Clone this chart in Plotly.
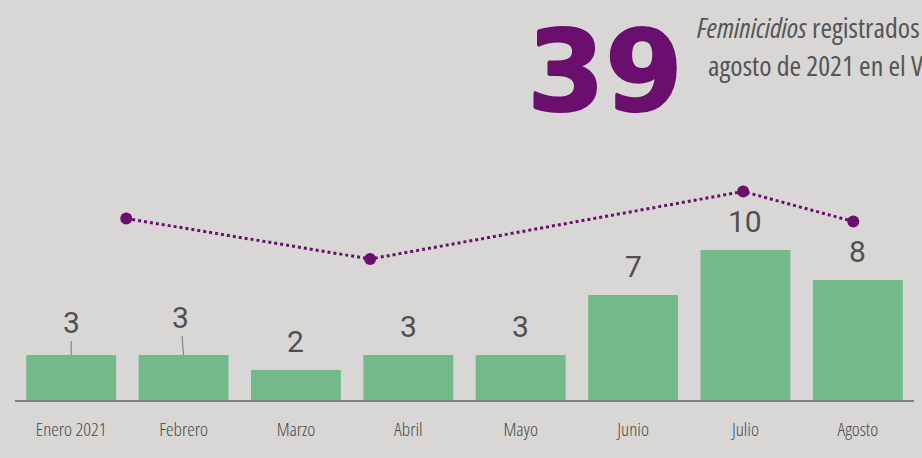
import plotly.graph_objects as go

meses = ["Enero 2021", "Febrero", "Marzo", "Abril", "Mayo", "Junio", "Julio", "Agosto"]
feminicidios = [3, 3, 2, 3, 3, 7, 10, 8]

# decorative dotted trend line (position along month axis, value)
linea_x = [0.49, 2.66, 5.98, 6.96]
linea_y = [12.1, 9.4, 13.9, 11.9]

total = "39"
titulo_l1 = "<i>Feminicidios</i> registrados de enero a"
titulo_l2 = "agosto de 2021 en el Valle de México"

BG = "#d8d7d5"
GREEN = "#74b98a"
PURPLE = "#6a0f6e"
GREY = "#505050"
COND = "Open Sans, DejaVu Sans Condensed, sans-serif"

fig = go.Figure()
fig.add_trace(go.Bar(x=meses, y=feminicidios, marker=dict(color=GREEN, line=dict(width=0)),
                     hoverinfo="x+y", showlegend=False))
fig.add_trace(go.Scatter(x=linea_x, y=linea_y, xaxis="x2", mode="lines+markers",
                         line=dict(color=PURPLE, width=3, dash="dot"),
                         marker=dict(color=PURPLE, size=12), showlegend=False))

ann = []
for i, (m, v) in enumerate(zip(meses, feminicidios)):
    if i == 0:
        ann.append(dict(x=m, y=v, text=str(v), showarrow=True, arrowhead=0, arrowwidth=1,
                        arrowcolor="#777", ax=0, ay=-33, font=dict(size=30, color=GREY, family="Roboto")))
    elif i == 1:
        ann.append(dict(x=m, y=v, text=str(v), showarrow=True, arrowhead=0, arrowwidth=1,
                        arrowcolor="#777", ax=-3, ay=-38, font=dict(size=30, color=GREY, family="Roboto")))
    else:
        ann.append(dict(x=m, y=v, text=str(v), showarrow=False, yanchor="middle", yshift=29,
                        font=dict(size=30, color=GREY, family="Roboto")))

ann.append(dict(xref="paper", yref="paper", x=(605 - 15) / 899, y=(400 - 71) / 240,
                text=f"<b>{total}</b>", showarrow=False, xanchor="center", yanchor="middle",
                font=dict(size=112, color=PURPLE, family="DejaVu Sans",
                          shadow=f"1px 0 0 {PURPLE}, -1px 0 0 {PURPLE}, 0 1px 0 {PURPLE}, 0 -1px 0 {PURPLE}")))
ann.append(dict(xref="paper", yref="paper", x=(695 - 15) / 899, y=(400 - 27) / 240,
                text=titulo_l1, showarrow=False, xanchor="left", yanchor="middle", align="left",
                font=dict(size=28, color="#555555", family=COND)))
ann.append(dict(xref="paper", yref="paper", x=(706 - 15) / 899, y=(400 - 65) / 240,
                text=titulo_l2, showarrow=False, xanchor="left", yanchor="middle", align="left",
                font=dict(size=28, color="#555555", family=COND)))

fig.update_layout(
    width=922, height=458,
    margin=dict(l=15, r=8, t=160, b=58),
    paper_bgcolor=BG, plot_bgcolor=BG,
    bargap=0.2,
    xaxis=dict(showgrid=False, showline=True, linecolor="#808080", linewidth=2,
               ticks="", ticklabelstandoff=11,
               tickfont=dict(size=19, color="#4a4a4a", family=COND, weight=350)),
    xaxis2=dict(overlaying="x", range=[-0.5, 7.5], visible=False),
    yaxis=dict(range=[0, 16], visible=False),
    annotations=ann,
)

css = (".xtick text, g.annotation[data-index='9'] text, g.annotation[data-index='10'] text"
       " {font-stretch:75%;}")
post = (
    "document.body.style.margin='0';document.body.style.background='%s';"
    "var s=document.createElement('style');s.textContent=\"%s\";document.head.appendChild(s);"
) % (BG, css)
fig.write_html("out.html", config={"displayModeBar": False}, post_script=post)
